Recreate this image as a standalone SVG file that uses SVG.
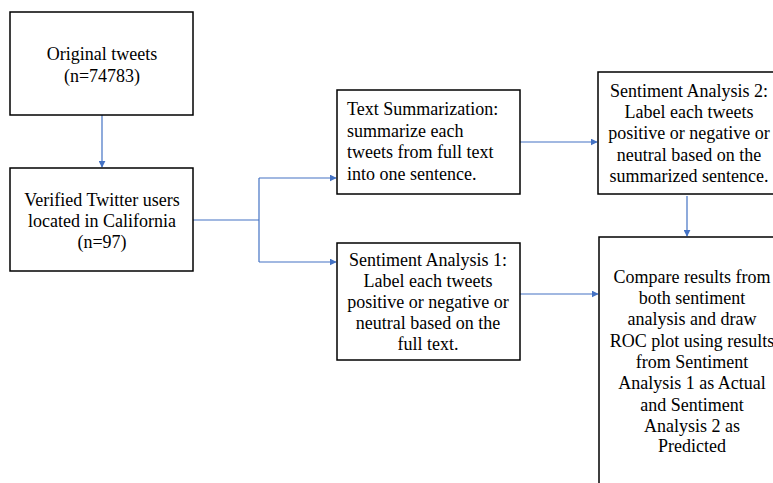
<svg xmlns="http://www.w3.org/2000/svg" width="773" height="483" viewBox="0 0 773 483">
<defs>
<style>
.box{fill:#fff;stroke:#000;stroke-width:1.5}
.t{font-family:'Liberation Serif','Times New Roman',serif;font-size:18px;fill:#000}
.c{text-anchor:middle}
.ln{fill:none;stroke:#4472C4;stroke-width:1.2}
</style>
<marker id="ah" viewBox="0 0 10 10" refX="9" refY="5" markerWidth="7" markerHeight="7" markerUnits="userSpaceOnUse" orient="auto">
<path d="M0,0 L10,5 L0,10 z" fill="#4472C4"/>
</marker>
</defs>
<rect width="773" height="483" fill="#fff"/>
<g id="connectors">
<line class="ln" x1="102" y1="115" x2="102" y2="167" marker-end="url(#ah)"/>
<polyline class="ln" points="193,220 259,220"/>
<polyline class="ln" points="259,178 259,262"/>
<polyline class="ln" points="259,178 336,178" marker-end="url(#ah)"/>
<polyline class="ln" points="259,262 336,262" marker-end="url(#ah)"/>
<line class="ln" x1="520" y1="142" x2="597" y2="142" marker-end="url(#ah)"/>
<line class="ln" x1="520" y1="294" x2="598" y2="294" marker-end="url(#ah)"/>
<line class="ln" x1="687" y1="196" x2="687" y2="236" marker-end="url(#ah)"/>
</g>
<g font-family="Liberation Serif, serif">
<g id="n1">
<rect class="box" x="10" y="12" width="183" height="103"/>
<text class="t c" x="102" y="60">Original tweets</text>
<text class="t c" x="102" y="82">(n=74783)</text>
</g>
<g id="n2">
<rect class="box" x="10" y="168" width="183" height="103"/>
<text class="t c" x="102" y="206">Verified Twitter users</text>
<text class="t c" x="102" y="227">located in California</text>
<text class="t c" x="102" y="248">(n=97)</text>
</g>
<g id="n3">
<rect class="box" x="337" y="90" width="183" height="104"/>
<text class="t" x="347" y="115">Text Summarization:</text>
<text class="t" x="347" y="137">summarize each</text>
<text class="t" x="347" y="158">tweets from full text</text>
<text class="t" x="347" y="180">into one sentence.</text>
</g>
<g id="n4">
<rect class="box" x="337" y="243" width="183" height="117"/>
<text class="t c" x="428" y="266">Sentiment Analysis 1:</text>
<text class="t c" x="428" y="287">Label each tweets</text>
<text class="t c" x="428" y="308">positive or negative or</text>
<text class="t c" x="428" y="329">neutral based on the</text>
<text class="t c" x="428" y="350">full text.</text>
</g>
<g id="n5">
<rect class="box" x="598" y="72" width="180" height="122"/>
<text class="t c" x="689" y="97">Sentiment Analysis 2:</text>
<text class="t c" x="689" y="118">Label each tweets</text>
<text class="t c" x="689" y="139">positive or negative or</text>
<text class="t c" x="689" y="161">neutral based on the</text>
<text class="t c" x="689" y="182">summarized sentence.</text>
</g>
<g id="n6">
<rect class="box" x="599" y="237" width="180" height="260"/>
<text class="t c" x="692" y="283">Compare results from</text>
<text class="t c" x="692" y="304">both sentiment</text>
<text class="t c" x="692" y="325">analysis and draw</text>
<text class="t c" x="692" y="347">ROC plot using results</text>
<text class="t c" x="692" y="368">from Sentiment</text>
<text class="t c" x="692" y="389">Analysis 1 as Actual</text>
<text class="t c" x="692" y="411">and Sentiment</text>
<text class="t c" x="692" y="432">Analysis 2 as</text>
<text class="t c" x="692" y="452">Predicted</text>
</g>
</g>
</svg>
